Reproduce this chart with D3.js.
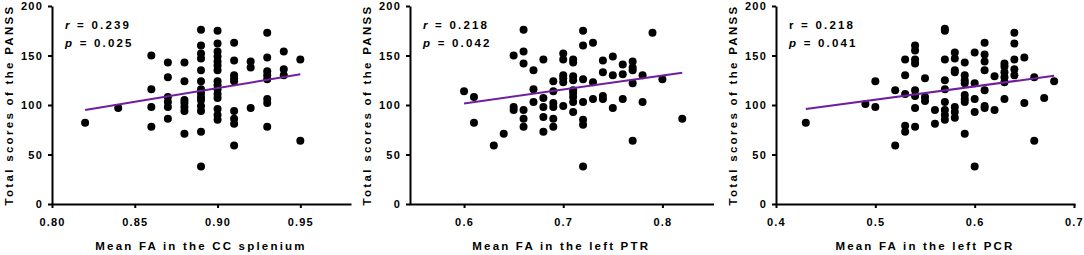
<!DOCTYPE html>
<html>
<head>
<meta charset="utf-8">
<script src="https://cdn.jsdelivr.net/npm/d3@7"></script>
<style>
  body { margin: 0; background: #fff; }
  svg { font-family: "Liberation Sans", Arial, sans-serif; font-weight: bold; }
</style>
</head>
<body>
<svg id="drawing_region"></svg>
<script>
// panel 1: CC splenium
const fa1 = [0.82,0.84,0.86,0.86,0.86,0.86,0.87,0.87,0.87,0.87,0.87,0.87,
  0.88,0.88,0.88,0.88,0.88,0.88,0.88,
  0.89,0.89,0.89,0.89,0.89,0.89,0.89,0.89,0.89,0.89,0.89,0.89,0.89,0.89,
  0.90,0.90,0.90,0.90,0.90,0.90,0.90,0.90,0.90,0.90,0.90,0.90,0.90,0.90,0.90,
  0.91,0.91,0.91,0.91,0.91,0.91,0.91,0.91,0.91,
  0.92,0.92,0.92,0.93,0.93,0.93,0.93,0.93,0.93,0.93,0.93,0.94,0.94,0.94,0.95,0.95];
const panss1 = [82,97,150,116,98,78,143,128,108,103,98,86,
  143,124,105,102,98,94,71,
  176,160,152,147,135,124,116,112,108,105,99,94,73,38,
  175,162,154,149,144,140,135,124,120,116,111,107,96,90,85,
  163,145,130,127,124,94,86,81,59,
  144,138,97,173,148,134,130,126,106,102,78,154,136,130,146,64];

// panel 2: left PTR
const fa2 = [0.60,0.61,0.61,0.63,0.64,0.65,0.65,0.65,
  0.66,0.66,0.66,0.66,0.66,0.66,0.67,0.67,0.67,
  0.68,0.68,0.68,0.68,0.68,0.69,0.69,0.69,0.69,0.69,0.69,
  0.70,0.70,0.70,0.70,0.70,0.70,
  0.71,0.71,0.71,0.71,0.71,0.71,0.71,0.71,0.71,
  0.72,0.72,0.72,0.72,0.72,0.72,0.72,0.73,0.73,0.73,
  0.74,0.74,0.74,0.74,0.75,0.75,0.75,0.76,0.76,0.76,
  0.77,0.77,0.77,0.77,0.77,0.78,0.78,0.79,0.80,0.82];
const panss2 = [114,108,82,59,71,150,98,95,
  176,154,142,95,86,78,135,116,103,
  146,107,98,88,73,124,114,102,98,86,78,
  152,146,130,127,123,99,
  146,143,129,125,115,112,108,103,93,
  175,160,126,103,85,80,38,163,123,106,
  145,133,109,106,149,130,97,141,131,106,
  144,138,135,122,64,130,103,173,126,86];

// panel 3: left PCR
const fa3 = [0.43,0.49,0.50,0.50,0.52,0.52,0.53,0.53,0.53,0.53,0.53,
  0.54,0.54,0.54,0.54,0.54,0.54,0.54,0.54,0.55,0.55,0.55,0.56,0.56,
  0.57,0.57,0.57,0.57,0.57,0.57,0.57,0.57,0.57,
  0.58,0.58,0.58,0.58,0.58,0.58,0.58,
  0.59,0.59,0.59,0.59,0.59,0.59,0.59,0.59,
  0.60,0.60,0.60,0.60,0.60,
  0.61,0.61,0.61,0.61,0.61,0.61,0.61,0.62,0.62,
  0.63,0.63,0.63,0.63,0.63,0.63,0.64,0.64,0.64,0.64,0.64,
  0.65,0.65,0.66,0.66,0.67,0.68];
const panss3 = [82,101,124,98,115,59,146,130,111,79,73,
  160,155,146,142,115,109,97,78,127,108,104,95,81,
  177,175,146,125,116,103,95,90,85,
  153,147,135,133,98,93,87,
  143,130,125,122,110,106,103,71,
  153,122,106,93,38,
  163,151,144,135,115,99,97,129,95,
  142,139,133,128,123,106,173,162,146,136,130,
  148,102,128,64,107,124];

// regression line end points
const fitX1 = [0.82, 0.95], fitY1 = [95, 131];
const fitX2 = [0.60, 0.82], fitY2 = [101.5, 132.5];
const fitX3 = [0.43, 0.68], fitY3 = [96, 129.5];

const xTicks1 = [0.80, 0.85, 0.90, 0.95];
const xTicks2 = [0.6, 0.7, 0.8];
const xTicks3 = [0.4, 0.5, 0.6, 0.7];
const yTicks = [0, 50, 100, 150, 200];

const svg = d3.select('#drawing_region')
    .attr('width', 1084)
    .attr('height', 255);

const panels = [
  { left: 52, right: 350, domain: [0.80, 0.98], ticks: xTicks1, fmt: d3.format('.2f'),
    xs: fa1, ys: panss1, fx: fitX1, fy: fitY1,
    title: 'Mean FA in the CC splenium', r: '0.239', p: '0.025', rItalic: true },
  { left: 410, right: 712.5, domain: [0.5455, 0.8505], ticks: xTicks2, fmt: d3.format('.1f'),
    xs: fa2, ys: panss2, fx: fitX2, fy: fitY2,
    title: 'Mean FA in the left PTR', r: '0.218', p: '0.042', rItalic: true },
  { left: 776, right: 1074, domain: [0.4, 0.7], ticks: xTicks3, fmt: d3.format('.1f'),
    xs: fa3, ys: panss3, fx: fitX3, fy: fitY3,
    title: 'Mean FA in the left PCR', r: '0.218', p: '0.041', rItalic: false }
];

const plotTop = 6, plotBottom = 204;
const labelSize = '11.5px', labelSpacing = '2.2px';

panels.forEach( cfg => {
    const g = svg.append('g');

    const xscale = d3.scaleLinear().domain(cfg.domain).range([cfg.left, cfg.right]);
    const yscale = d3.scaleLinear().domain([0, 200]).range([plotBottom, plotTop]);

    const xaxis = d3.axisBottom(xscale)
        .tickValues(cfg.ticks)
        .tickFormat(cfg.fmt)
        .tickSize(4)
        .tickPadding(10)
        .tickSizeOuter(0);
    const yaxis = d3.axisLeft(yscale)
        .tickValues(yTicks)
        .tickSize(4)
        .tickPadding(5)
        .tickSizeOuter(0);

    const xg = g.append('g')
        .attr('transform', `translate(0, ${plotBottom})`)
        .call(xaxis);
    const yg = g.append('g')
        .attr('transform', `translate(${cfg.left}, 0)`)
        .call(yaxis);

    [xg, yg].forEach( a => {
        a.select('.domain').attr('stroke', '#000').attr('stroke-width', 2);
        a.selectAll('.tick line').attr('stroke', '#000').attr('stroke-width', 2);
        a.selectAll('.tick text')
            .attr('fill', '#000')
            .style('font-size', '11px')
            .style('font-weight', 'bold')
            .style('letter-spacing', '1.2px')
            .style('font-family', '"Liberation Sans", Arial, sans-serif');
    });
    xg.select('.domain').attr('stroke-linecap', 'square');

    // axis titles
    g.append('text')
        .attr('text-anchor', 'middle')
        .attr('x', (cfg.left + cfg.right) / 2)
        .attr('y', 250)
        .style('font-size', labelSize)
        .style('letter-spacing', labelSpacing)
        .text(cfg.title);

    g.append('text')
        .attr('text-anchor', 'middle')
        .attr('transform', `translate(${cfg.left - 39}, ${(plotTop + plotBottom) / 2}) rotate(-90)`)
        .style('font-size', labelSize)
        .style('letter-spacing', '2.3px')
        .text('Total scores of the PANSS');

    // stats text
    const rt = g.append('text')
        .attr('x', cfg.left + 13)
        .attr('y', 29)
        .style('font-size', labelSize)
        .style('letter-spacing', labelSpacing);
    rt.append('tspan').style('font-style', cfg.rItalic ? 'italic' : 'normal').text('r');
    rt.append('tspan').text(' = ' + cfg.r);

    const pt = g.append('text')
        .attr('x', cfg.left + 13)
        .attr('y', 47)
        .style('font-size', labelSize)
        .style('letter-spacing', labelSpacing);
    pt.append('tspan').style('font-style', 'italic').text('p');
    pt.append('tspan').text(' = ' + cfg.p);

    // points
    const pts = cfg.xs.map( (x, i) => ({ x: x, y: cfg.ys[i] }) );
    g.selectAll('circle')
        .data(pts)
        .enter()
        .append('circle')
        .attr('cx', d => xscale(d.x))
        .attr('cy', d => yscale(d.y))
        .attr('r', 4)
        .attr('fill', '#000');

    // fit line
    const fit = cfg.fx.map( (x, i) => [x, cfg.fy[i]] );
    g.append('path')
        .datum(fit)
        .attr('fill', 'none')
        .attr('stroke', '#6f1f9e')
        .attr('stroke-width', 2)
        .attr('d', d3.line().x(d => xscale(d[0])).y(d => yscale(d[1])));
});
</script>
</body>
</html>
